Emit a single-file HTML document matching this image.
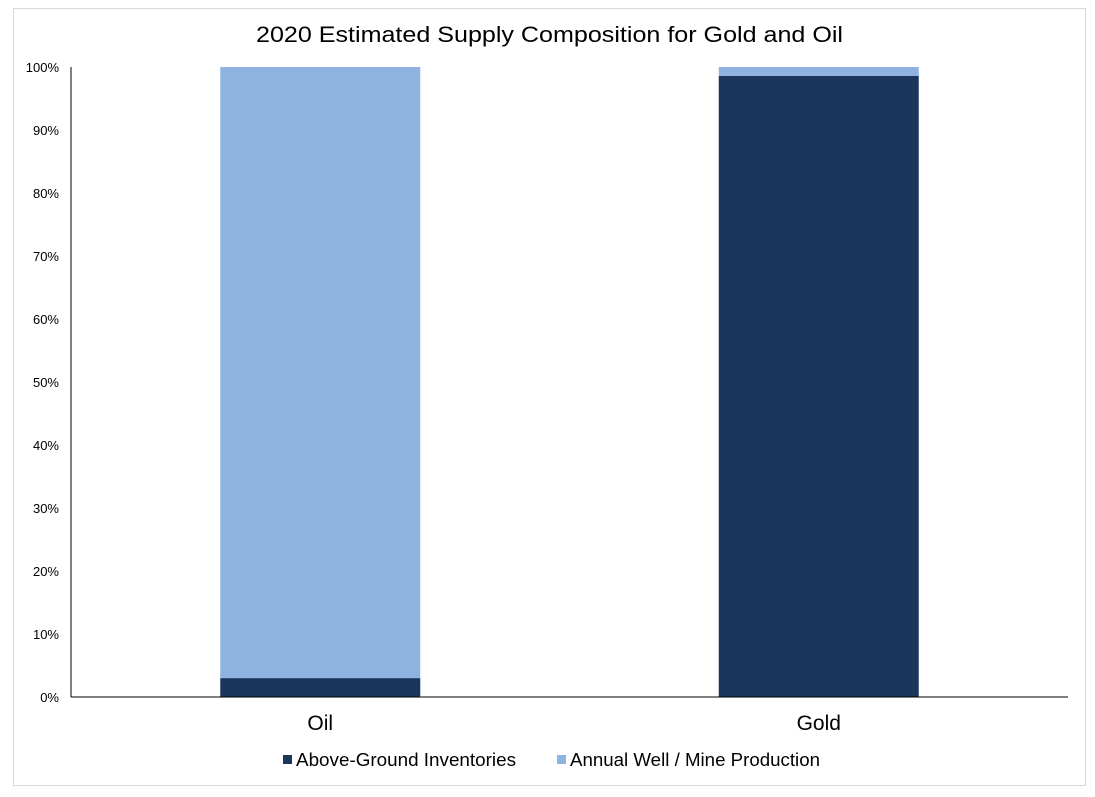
<!DOCTYPE html>
<html><head><meta charset="utf-8"><style>
body{margin:0;background:#fff;font-family:"Liberation Sans",Arial,sans-serif}
</style></head><body>
<svg width="1095" height="792" xmlns="http://www.w3.org/2000/svg">
<rect x="13.5" y="8.5" width="1072" height="777" fill="#fff" stroke="#d9d9d9"/>
<text x="256" y="42" font-size="22" fill="#000" textLength="587" lengthAdjust="spacingAndGlyphs">2020 Estimated Supply Composition for Gold and Oil</text>
<g id="yticks"></g>
<g id="bars"></g>
<line x1="71" y1="67" x2="71" y2="697" stroke="#000"/>
<line x1="71" y1="697" x2="1068" y2="697" stroke="#000"/>
<g id="xlabels"></g>
<g>
<rect x="283" y="755" width="9" height="9" fill="#1a365d"/>
<text x="296" y="766" font-size="18" fill="#000" textLength="220" lengthAdjust="spacingAndGlyphs">Above-Ground Inventories</text>
<rect x="557" y="755" width="9" height="9" fill="#8eb3e0"/>
<text x="570" y="766" font-size="18" fill="#000" textLength="250" lengthAdjust="spacingAndGlyphs">Annual Well / Mine Production</text>
</g>
</svg>
<script>
const categories = ["Oil", "Gold"];
const inventories = [3.0, 98.6];
const production = [97.0, 1.4];
const yTicks = [0,10,20,30,40,50,60,70,80,90,100];
const NS="http://www.w3.org/2000/svg";
const x0=71,x1=1068,y0=697,y1=67;
function yScale(v){return y0-(v/100)*(y0-y1);}
function xCenter(i){const w=(x1-x0)/categories.length;return x0+w*(i+0.5);}
const barW=200;
const yt=document.getElementById('yticks');
yTicks.forEach(t=>{
  const e=document.createElementNS(NS,'text');
  e.setAttribute('x',59);e.setAttribute('y',yScale(t)+5);
  e.setAttribute('text-anchor','end');e.setAttribute('font-size','13');
  e.textContent=t+'%';
  
  
  yt.appendChild(e);
});
const bg=document.getElementById('bars');
const xl=document.getElementById('xlabels');
categories.forEach((c,i)=>{
  const cx=xCenter(i);
  const a=inventories[i],b=production[i];
  const r1=document.createElementNS(NS,'rect');
  r1.setAttribute('x',cx-barW/2);r1.setAttribute('width',barW);
  r1.setAttribute('y',yScale(a));r1.setAttribute('height',y0-yScale(a));
  r1.setAttribute('fill','#1a365d');
  
  
  bg.appendChild(r1);
  const r2=document.createElementNS(NS,'rect');
  r2.setAttribute('x',cx-barW/2);r2.setAttribute('width',barW);
  r2.setAttribute('y',yScale(a+b));r2.setAttribute('height',yScale(a)-yScale(a+b));
  r2.setAttribute('fill','#8eb3e0');
  
  
  bg.appendChild(r2);
  const t=document.createElementNS(NS,'text');
  t.setAttribute('x',cx);t.setAttribute('y',730);
  t.setAttribute('text-anchor','middle');t.setAttribute('font-size','21');
  t.textContent=c;
  
  
  xl.appendChild(t);
});
</script>
</body></html>
